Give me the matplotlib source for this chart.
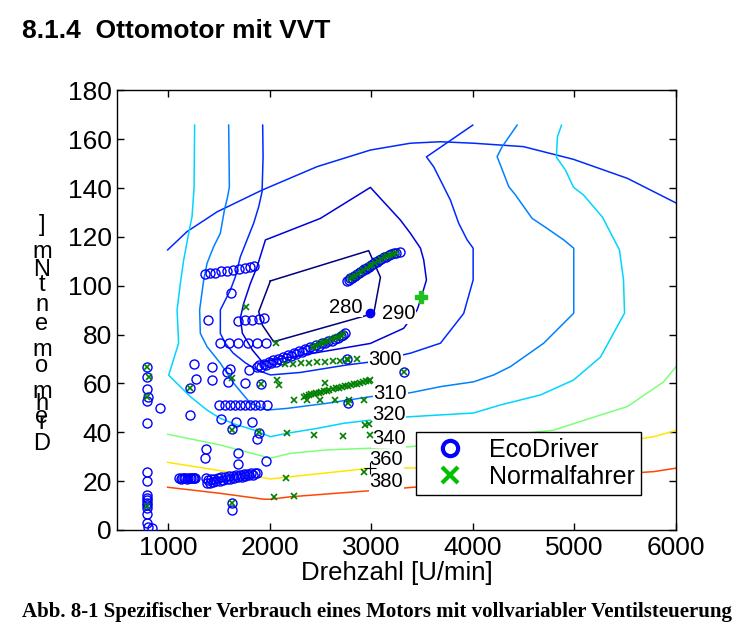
import matplotlib
matplotlib.use('Agg')
import matplotlib.pyplot as plt
from matplotlib.lines import Line2D

plt.rcParams['font.family'] = ['Liberation Sans', 'DejaVu Sans']

# specific consumption map, contour lines (rpm, Nm)
c280_rpm = [2008, 2976, 3092, 3026, 2040, 1929, 1893, 2008]
c280_nm = [102.0, 114.4, 103.5, 88.7, 77.1, 83.9, 89.4, 102.0]

c290_rpm = [1929, 2993, 3321, 3453, 3486, 3545, 3518, 3486, 3387, 3289, 2993, 2500,
            2040, 1959, 1877, 1811, 1745, 1712, 1732, 1831, 1929]
c290_nm = [68.8, 76.4, 82.6, 90.1, 94.2, 102.4, 110.6, 115.4, 121.5, 126.9, 140.3, 127.6,
           120.1, 118.8, 107.8, 101.0, 92.8, 86.8, 80.6, 73.7, 68.8]

c300_rpm = [1932, 1936, 1926, 1893, 1843, 1778, 1712, 1663, 1614, 1515, 1515, 1564, 1640,
            1760, 1877, 2008, 2300, 2763, 2993, 3387, 3683, 3912, 4005, 4005, 3946, 3863,
            3781, 3715, 3617, 3545, 4001]
c300_nm = [165.8, 152.9, 138.5, 132.4, 125.6, 118.8, 111.9, 103.7, 98.3, 90.1, 80.5, 76.5, 72.5,
           68.5, 65.5, 63.5, 64.5, 67.6, 68.8, 72.4, 76.5, 88.7, 102.4, 115.4, 118.8, 125.6,
           135.1, 140.6, 148.7, 152.8, 165.8]

c300_top_rpm = [996, 1187, 1483, 1926, 2468, 2993, 3387, 3683, 4008, 4500, 4993, 5525, 6000]
c300_top_nm = [114.7, 122.2, 130.3, 139.2, 148.8, 155.6, 158.4, 159.0, 158.4, 157.0, 151.8, 144.0, 134.0]

c310_rpm = [1597, 1604, 1587, 1555, 1515, 1449, 1384, 1351, 1311, 1318, 1384, 1515, 1646, 1811,
            1975, 2172, 2566, 2993, 3387, 3683, 4011, 4208, 4372, 4700, 4996, 4996, 4996, 4897,
            4734, 4586, 4422, 4356, 4274, 4241, 4291, 4438]
c310_nm = [165.8, 140.6, 136.5, 131.0, 121.5, 116.0, 109.2, 102.4, 90.1, 80.5, 75.1, 68.3, 60.1, 51.9,
           49.1, 49.8, 51.9, 54.6, 56.2, 58.7, 60.7, 63.5, 66.9, 76.5, 88.8, 102.4, 115.4, 118.8,
           123.5, 127.6, 137.2, 140.6, 149.4, 152.9, 157.0, 165.8]

c320_rpm = [1262, 1256, 1236, 1203, 1154, 1121, 1089, 1104, 1006, 1072, 1220, 1384, 1515, 1680,
            1843, 2008, 2172, 2468, 2730, 2993, 3387, 4008, 4274, 4668, 4993, 5259, 5496, 5486,
            5446, 5279, 5092, 4993, 4914, 4825, 4835, 4875]
c320_nm = [165.8, 139.9, 128.3, 121.5, 110.6, 101.0, 90.1, 76.5, 63.4, 60.7, 54.6, 49.1, 45.7, 43.0,
           41.0, 38.2, 39.6, 41.6, 43.7, 45.0, 46.4, 47.9, 51.2, 55.3, 61.4, 70.8, 88.8, 102.4,
           114.7, 128.1, 137.2, 140.4, 147.4, 152.7, 160.9, 165.8]

c340_rpm = [996, 1515, 2008, 2205, 2566, 2993, 3387, 3880, 4799, 5259, 5522, 5880, 6000]
c340_nm = [39.2, 34.8, 29.4, 31.4, 32.8, 33.5, 34.1, 36.9, 40.9, 47.1, 50.5, 60.6, 66.7]

c360_rpm = [996, 1680, 2008, 2205, 2993, 3436, 3880, 5781, 6000]
c360_nm = [27.7, 23.2, 20.9, 21.8, 25.3, 25.4, 26.5, 38.2, 40.7]

c380_rpm = [996, 1515, 1942, 2008, 2205, 2993, 3417, 5784, 6000]
c380_nm = [17.5, 15.0, 12.6, 12.6, 13.6, 16.1, 17.5, 23.9, 25.3]

contours = [
    (280, c280_rpm, c280_nm), (290, c290_rpm, c290_nm), (300, c300_rpm, c300_nm),
    (300, c300_top_rpm, c300_top_nm), (310, c310_rpm, c310_nm), (320, c320_rpm, c320_nm),
    (340, c340_rpm, c340_nm), (360, c360_rpm, c360_nm), (380, c380_rpm, c380_nm),
]

label_text = ['280', '290', '300', '310', '320', '340', '360', '380']
label_rpm = [2747, 3272, 3141, 3190, 3173, 3173, 3151, 3151]
label_nm = [91.3, 88.7, 69.9, 56.0, 47.1, 37.6, 29.0, 19.8]

# EcoDriver operating points
eco_rpm = [793, 793, 793, 800, 793, 793, 793, 793, 793, 793, 793, 793, 793, 793, 793, 793, 800, 842, 917,
           1367, 1417, 1466, 1525, 1584, 1643, 1702, 1761, 1811, 1850, 1621,
           1394, 1690, 1762, 1828, 1893, 1949,
           1508, 1597, 1690, 1784, 1877, 1969,
           1252, 1433, 1607, 1581, 1794, 1279, 1433, 1591, 1762, 1916, 1220, 1220, 1525, 1673, 1831,
           1630, 1899, 1877, 1377, 1361, 1690, 1690, 1969, 1377, 1630, 1630,
           1499, 1565, 1614, 1663, 1712, 1762, 1811, 1860, 1909, 1975,
           3321, 2763, 2769,
           2763, 2780, 2795, 2810, 2828, 2845, 2860, 2878, 2895, 2912, 2930, 2948, 2965, 2983, 3000,
           3020, 3040, 3060, 3080, 3100, 3125, 3150, 3175, 3200, 3225, 3250, 3285,
           1877, 1900, 1920, 1945, 1965, 1990, 2010, 2035, 2060, 2085, 2110, 2135, 2160, 2185, 2210,
           2240, 2265, 2290, 2320, 2345, 2370, 2400, 2430, 2460, 2490, 2520, 2550, 2580, 2610, 2640,
           2670, 2700, 2725, 2747,
           1110, 1125, 1140, 1155, 1170, 1185, 1200, 1215, 1230, 1245, 1260, 1270,
           1384, 1390, 1410, 1420, 1440, 1455, 1475, 1490, 1510, 1525, 1545, 1560, 1580, 1600, 1615,
           1635, 1650, 1670, 1690, 1705, 1725, 1745, 1760, 1780, 1800, 1815, 1835, 1855, 1877]
eco_nm = [66.6, 62.8, 57.7, 54.6, 52.8, 43.7, 23.9, 20.1, 14.3, 13.2, 12.3, 11.2, 10.2, 9.0, 6.4, 2.7, 1.4, 0.8, 50.1,
          104.8, 105.2, 105.4, 105.9, 106.1, 106.5, 106.9, 107.3, 107.7, 108.1, 96.9,
          86.0, 85.6, 86.0, 86.0, 86.3, 86.7,
          76.5, 76.5, 76.5, 76.5, 76.5, 76.5,
          68.0, 66.9, 65.9, 64.8, 65.5, 61.8, 61.4, 60.6, 60.1, 59.7, 58.0, 47.1, 45.3, 44.3, 44.1,
          41.2, 39.8, 37.3, 33.2, 29.4, 31.7, 27.0, 28.4, 21.4, 11.2, 8.2,
          51.2, 51.2, 51.2, 51.2, 51.2, 51.2, 51.2, 51.2, 51.2, 51.2,
          64.8, 69.9, 52.1,
          102.0, 102.3, 103.1, 103.2, 103.9, 104.2, 104.9, 105.1, 105.8, 106.0, 106.7, 107.0, 107.6, 107.9, 108.5,
          108.8, 109.6, 109.9, 110.6, 110.9, 111.6, 112.0, 112.5, 112.9, 113.3, 113.6, 114.0,
          66.9, 67.5, 66.8, 68.1, 67.6, 68.8, 68.3, 69.5, 69.0, 70.2, 69.8, 71.0, 70.5, 71.7, 71.3,
          72.4, 72.0, 73.2, 72.9, 74.0, 73.7, 74.8, 74.6, 75.6, 75.5, 76.5, 76.6, 77.4, 77.6, 78.4,
          78.8, 79.5, 80.0, 80.5,
          21.2, 21.0, 21.4, 21.1, 21.3, 21.0, 21.4, 21.2, 21.1, 21.4, 21.2, 21.3,
          19.1, 20.6, 19.3, 20.8, 19.6, 21.0, 19.9, 21.2, 20.2, 21.5, 20.5, 21.8, 20.8, 22.0, 21.0,
          22.2, 21.3, 22.4, 21.6, 22.6, 21.9, 22.8, 22.2, 23.0, 22.4, 23.2, 22.7, 23.4, 23.2]

# Normalfahrer operating points
nf_rpm = [793, 816, 793, 793, 1768, 2064,
          2156, 2232, 2310, 2392, 2468, 2543, 2622, 2698, 2774, 2862,
          1630, 1220, 1919, 2074, 2090, 2550,
          2237, 2369, 2500, 2648, 2779, 2927,
          2336, 2360, 2385, 2410, 2435, 2460, 2485, 2510, 2540, 2565, 2590, 2620, 2650, 2680, 2710,
          2740, 2770, 2800, 2830, 2860, 2890, 2920, 2950, 2975, 2993,
          1630, 1899, 2172, 2441, 2720, 2944, 2976, 2993, 2163, 2934, 2047, 2237, 1630,
          3321, 2763, 2769,
          2790, 2815, 2840, 2870, 2900, 2925, 2955, 2985, 3010, 3040, 3070, 3100, 3130, 3160, 3190,
          3220, 3250,
          2432, 2460, 2490, 2520, 2550, 2580, 2610, 2640, 2670, 2700, 2725]
nf_nm = [66.6, 62.8, 54.3, 9.8, 91.4, 76.7,
         67.9, 68.1, 68.3, 68.5, 68.7, 68.9, 69.1, 69.3, 69.5, 69.9,
         62.1, 58.3, 59.7, 61.4, 59.4, 60.3,
         53.2, 53.2, 53.2, 53.2, 53.2, 53.2,
         54.6, 55.0, 55.1, 55.6, 55.6, 56.1, 56.3, 56.5, 56.9, 57.1, 57.4, 57.6, 58.1, 58.2, 58.6,
         58.9, 59.1, 59.4, 59.7, 59.9, 60.3, 60.5, 60.9, 61.0, 61.4,
         41.0, 40.3, 39.6, 38.9, 38.5, 43.0, 43.4, 38.9, 21.2, 23.9, 13.6, 13.9, 11.2,
         64.8, 69.9, 52.1,
         102.6, 103.5, 104.0, 104.9, 105.7, 106.4, 107.2, 108.0, 108.6, 109.4, 110.2, 110.9, 111.6, 112.1, 112.6,
         113.1, 113.6,
         74.9, 75.5, 76.0, 76.6, 77.1, 77.6, 78.1, 78.6, 79.1, 79.6, 80.1]

# single highlighted points
best_eco = (2993, 88.7)
best_nf = (3496, 95.4)
cross_pt = (2993, 25.4)

ylabel_chars = ['D', 'r', 'e', 'h', 'm', 'o', 'm', 'e', 'n', 't', 'N', 'm', ']']
ylabel_px = [444, 423, 417, 404, 392, 366, 350, 324, 305, 285, 270, 252, 225]

fig = plt.figure(figsize=(7.4, 6.38), dpi=100)
ax = fig.add_axes([0.1585, 0.1693, 0.7546, 0.6889])

cmap = plt.get_cmap('jet')
norm = plt.Normalize(280, 400)
for lev, xs, ys in contours:
    ax.plot(xs, ys, color=cmap(norm(lev)), lw=1.1, zorder=2)

for t, x, y in zip(label_text, label_rpm, label_nm):
    ax.text(x, y, t, fontsize=14.5, ha='center', va='center', zorder=3,
            bbox=dict(facecolor='white', edgecolor='none', pad=0.5))

ax.plot(eco_rpm, eco_nm, ls='none', marker='o', mfc='none', mec='#0000FF', ms=6.5, mew=1.0, zorder=4)
ax.plot(nf_rpm, nf_nm, ls='none', marker='x', color='#008000', ms=4, mew=1.2, zorder=5)
ax.plot(*best_eco, marker='o', color='#0000FF', ms=6, zorder=6)
ax.plot(*best_nf, marker='P', color='#20C020', ms=8, zorder=6)
ax.plot(*cross_pt, marker='+', color='black', ms=8, mew=0.8, zorder=6)

ax.set_xlim(500, 6000)
ax.set_ylim(0, 180)
ax.set_xticks([1000, 2000, 3000, 4000, 5000, 6000])
ax.set_yticks(range(0, 181, 20))
ax.tick_params(direction='in', top=True, right=True, length=5, width=1, labelsize=19, pad=4)
for s in ax.spines.values():
    s.set_linewidth(1.0)
ax.set_xlabel('Drehzahl [U/min]', fontsize=18.5, labelpad=1)

handles = [
    Line2D([], [], ls='none', marker='o', mfc='none', mec='#0000FF', mew=3, ms=11),
    Line2D([], [], ls='none', marker='x', color='#00C000', mew=3, ms=12),
]
leg = ax.legend(handles, ['EcoDriver', 'Normalfahrer'], loc='upper left',
                bbox_to_anchor=(0.535, 0.223), fontsize=18, fancybox=False,
                framealpha=1, edgecolor='black', borderpad=0.25, labelspacing=0.1,
                handlelength=2.2, handletextpad=0.45, borderaxespad=0)
leg.get_frame().set_linewidth(1.0)
leg.set_zorder(10)

for ch, py in zip(ylabel_chars, ylabel_px):
    fig.text(42 / 740, 1 - py / 638, ch, fontsize=17, ha='center', va='center')

fig.text(22 / 740, 1 - 31 / 638, '8.1.4  Ottomotor mit VVT', fontsize=19, fontweight='bold',
         ha='left', va='center')
fig.text(22 / 740, 1 - 612 / 638,
         'Abb. 8-1 Spezifischer Verbrauch eines Motors mit vollvariabler Ventilsteuerung',
         fontsize=15, fontweight='bold', family=['Liberation Serif', 'DejaVu Serif'],
         ha='left', va='center')

fig.savefig('out.png', dpi=100)
